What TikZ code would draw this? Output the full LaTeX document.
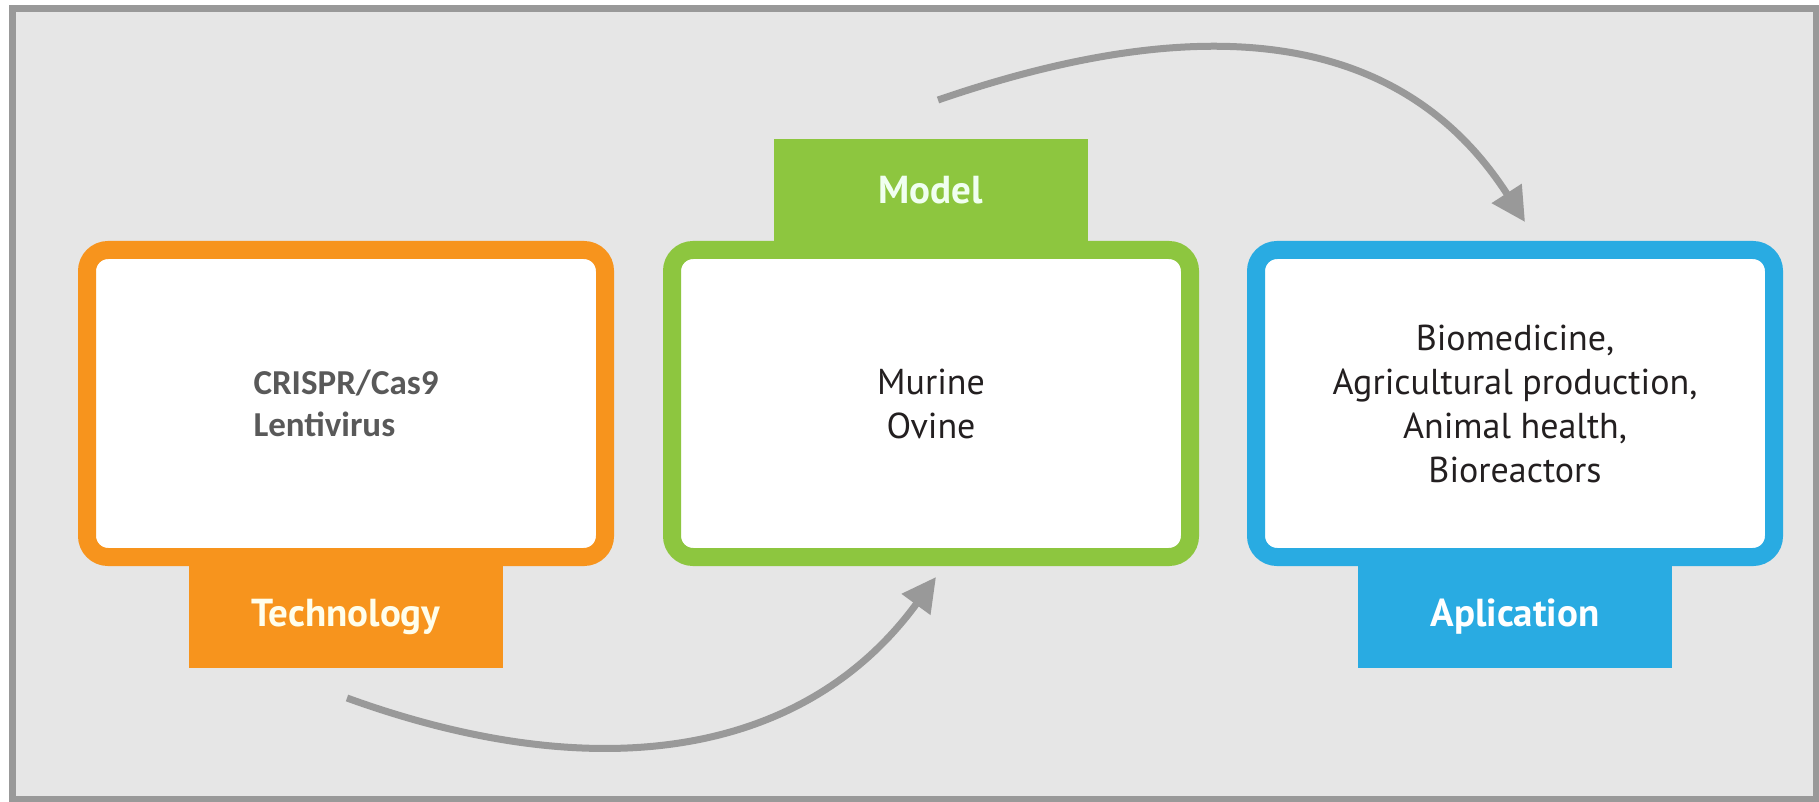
\documentclass[tikz,border=0pt]{standalone}
\usepackage{fontspec}
\setmainfont{PT Sans}
\newfontfamily\cali{Carlito}
\usetikzlibrary{positioning,arrows.meta}
\definecolor{cam}{HTML}{F7941D}
\definecolor{luc}{HTML}{8DC63F}
\definecolor{lam}{HTML}{29ABE2}
\definecolor{nen}{HTML}{E6E6E6}
\definecolor{xam}{HTML}{999999}
\definecolor{chu}{HTML}{231F20}
\tikzset{
	hop/.style={draw=#1,line width=9pt,fill=white,rounded corners=10.5pt,minimum width=259pt,minimum height=153.5pt,align=center,text=chu,font=\fontsize{18}{22}\selectfont},
	nhan/.style={fill=#1,draw=none,minimum width=157pt,minimum height=51.5pt,outer sep=0pt,text=white,font=\bfseries\fontsize{19.5}{22}\selectfont},
	muiten/.style={draw=xam,line width=3.5pt,-{Triangle[length=17pt,width=17pt]}}
}
\begin{document}
\begin{tikzpicture}[x=0.5pt,y=-0.5pt]%Hình
	\useasboundingbox (0,0) rectangle (1819,802);
	\draw[xam,line width=3.5pt,fill=nen] (12,9) rectangle (1816,799);
	\path
	(346,403.5) coordinate (T)
	(931,403.5) coordinate (M)
	(1515,403.5) coordinate (U)
	(347,698) coordinate (A)
	(936,577) coordinate (B)
	(938,100) coordinate (C)
	(1525,222) coordinate (D);
	\node[hop=cam,text=black!65,font=\cali\bfseries\fontsize{17.5}{21}\selectfont,align=left] (tech) at (T) {CRISPR/Cas9\\Lentivirus};
	\node[hop=luc] (model) at (M) {Murine\\Ovine};
	\node[hop=lam] (appl) at (U) {Biomedicine,\\Agricultural production,\\Animal health,\\Bioreactors};
	\node[nhan=cam,text=yellow!8,below=-0.5pt of tech] (techtab) {Technology};
	\node[nhan=luc,text=green!6,above=-0.5pt of model] (modeltab) {Model};
	\node[nhan=lam,below=-0.5pt of appl] (appltab) {Aplication};
	\draw[muiten] (A) .. controls (601,790) and (806,755) .. (B);
	\draw[muiten] (C) .. controls (1203,9) and (1401,29) .. (D);
	%	\draw[help lines] (0,0) grid (1819,802);
\end{tikzpicture}
\end{document}
